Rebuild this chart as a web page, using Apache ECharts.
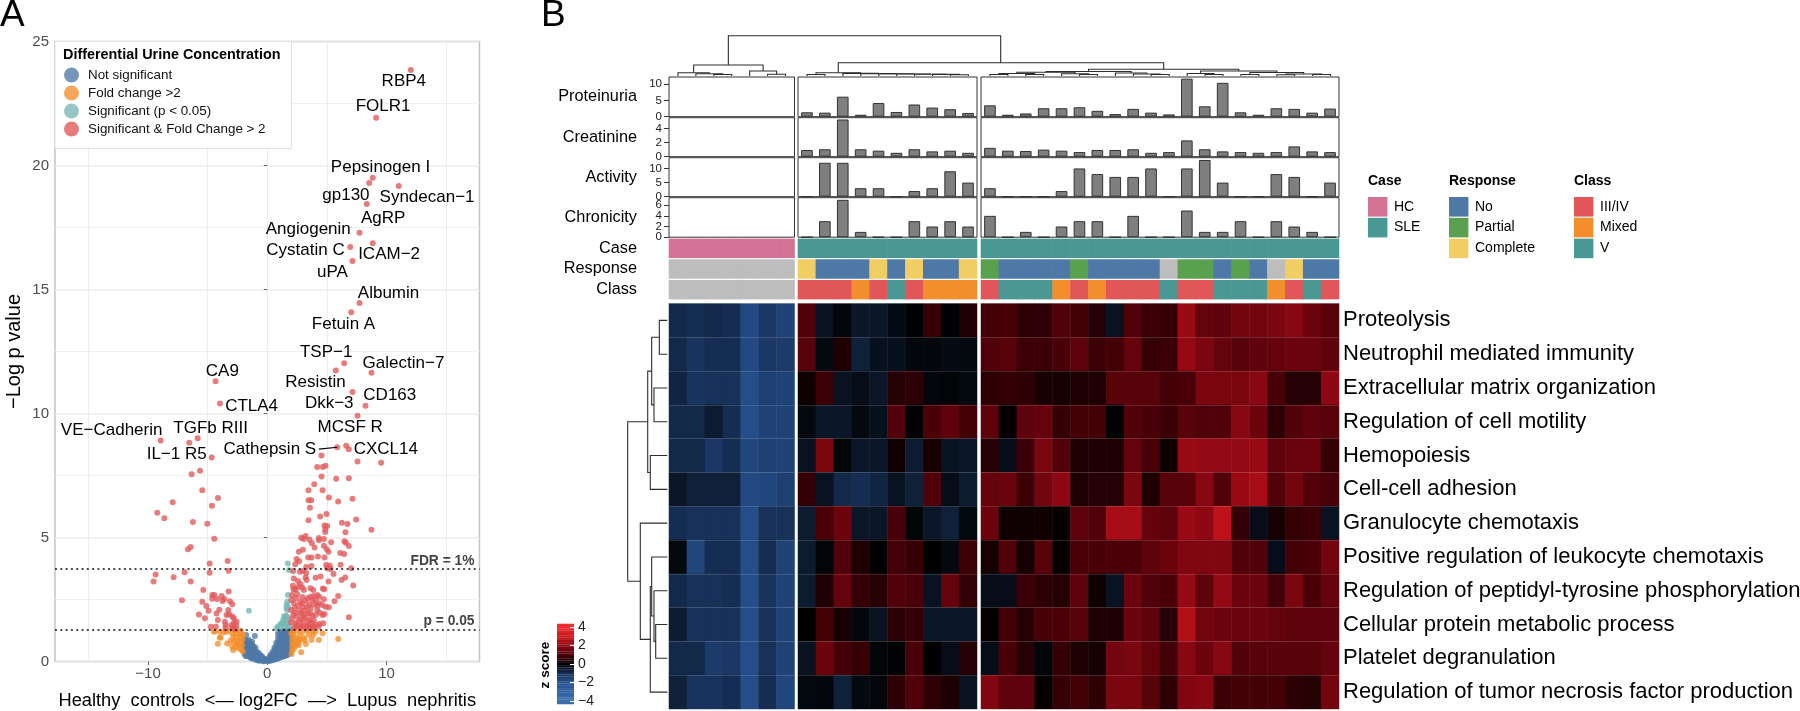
<!DOCTYPE html>
<html><head><meta charset="utf-8">
<style>html,body{margin:0;padding:0;background:#fff}#c{width:1800px;height:711px}</style>
<script src="https://cdn.jsdelivr.net/npm/echarts@6/dist/echarts.min.js"></script>
</head><body><div id="c"></div>
<script>
// ---------- Panel A data ----------
const geneLabels = ['RBP4','FOLR1','Pepsinogen I','gp130','Syndecan\u22121','AgRP','Angiogenin','ICAM\u22122','Cystatin C','uPA','Albumin','Fetuin A','TSP\u22121','Galectin\u22127','Resistin','Dkk\u22123','CD163','CA9','CTLA4','VE\u2212Cadherin','TGFb RIII','IL\u22121 R5','MCSF R','Cathepsin S','CXCL14'];
const genePoints = [[12.04,23.85],[9.13,21.93],[8.85,19.51],[8.55,19.29],[11.03,19.17],[8.35,18.45],[7.74,17.29],[8.85,16.86],[6.96,16.71],[7.15,16.15],[7.74,14.46],[7.04,14.08],[6.45,12.03],[8.74,11.64],[7.15,10.87],[7.57,9.91],[8.24,10.31],[-4.33,11.3],[-3.97,10.4],[-8.94,8.91],[-5.84,9.0],[-4.66,8.23],[6.62,8.7],[5.87,8.64],[6.84,8.56]];
const labelOffsets = [[-7,11],[7,-11.7],[7.7,-10.3],[-23.3,12],[28.3,11.3],[16.3,14.7],[-51.3,-3],[16.3,11],[-44.7,3.7],[-20,11],[29,-10],[-7.7,11.7],[-18,-10.7],[32,-10],[-37,-10],[-28.3,-12.3],[24.3,-10],[6.7,-10.3],[31.7,3],[-49,-10],[13,-10],[-35,-2.7],[4,-18.7],[-67.4,2.4],[37,0.4]];
const cathepsinLeader = [[4.33,8.56],[5.87,8.64]];
const resistinExtra = [[5.75,11.73]];
const sigFoldLeft = [[-6.54,8.82],[-5.64,7.69],[-6.34,7.55],[-5.45,6.91],[-4.13,6.59],[-4.64,6.28],[-7.93,6.42],[-9.22,6.0],[-8.63,5.78],[-6.23,5.62],[-5.03,5.55],[-4.44,4.95],[-6.42,4.62],[-6.65,4.53],[-3.32,4.05],[-4.83,3.95],[-3.24,3.66],[-4.83,3.58],[-6.93,3.6],[-9.36,3.51],[-7.85,3.4],[-9.53,3.23],[-6.42,3.23],[-5.36,2.88],[-3.24,2.82],[-7.15,2.47],[-4.61,2.68],[-4.44,2.68],[-4.61,2.53],[-4.22,2.52],[-3.83,2.64],[-3.6,2.52],[-3.75,2.44],[-3.13,2.43],[-2.93,2.31],[-5.45,2.41],[-5.11,2.24],[-4.92,2.05],[-4.02,2.09],[-4.25,1.94],[-5.73,1.9],[-5.23,1.74],[-4.14,1.67],[-3.27,2.08],[-3.19,1.91],[-3.41,1.87],[-2.93,1.81],[-2.8,1.74],[-2.57,1.6],[-3.55,1.6],[-3.5,1.47],[-3.02,1.46],[-2.8,1.54],[-2.6,1.43],[-4.73,1.4],[-4.31,1.41],[-3.5,1.34],[-2.93,1.34],[-2.66,1.31]];
const sigFoldRight = [[4.55,8.31],[7.57,8.06],[9.55,8.01],[4.19,7.84],[4.66,7.84],[4.89,7.89],[4.55,7.46],[5.78,7.37],[6.84,7.39],[3.94,7.15],[3.46,6.91],[4.64,6.91],[5.17,6.61],[7.15,6.56],[5.95,6.45],[3.46,6.5],[3.69,6.5],[3.58,6.2],[4.44,5.85],[4.97,5.95],[3.46,5.7],[7.46,5.73],[6.26,5.59],[6.73,5.54],[8.74,5.31],[6.56,5.21],[4.8,5.48],[5.03,5.46],[4.86,5.34],[4.86,5.22],
[2.85,4.99],[3.21,5.06],[3.07,4.94],[3.55,4.91],[4.33,4.98],[4.33,4.89],[4.75,4.94],[5.36,4.81],[6.48,4.85],[6.59,4.79],[6.84,4.66],[3.74,4.77],[3.97,4.6],[4.75,4.67],[4.97,4.54],[2.99,4.51],[2.65,4.43],[5.14,4.43],[6.12,4.38],[6.45,4.33],[3.44,4.19],[3.71,4.19],[4.25,4.23],[4.8,4.19],[2.46,4.13],[2.68,4.04],[3.71,3.85],[6.15,3.9],[4.94,3.89],[5.25,3.86],[3.27,3.81],[2.35,3.92],[5.03,3.76],[7.04,3.76],[5.31,3.73],[2.74,3.62],[2.99,3.65],[3.27,3.57],[5.56,3.53],[2.18,3.65],
[2.23,3.35],[2.57,3.25],[2.79,3.13],[3.21,3.39],[3.3,3.29],[4.05,3.38],[4.47,3.43],[5.14,3.23],[6.23,3.29],[6.54,3.39],[7.21,3.06],[2.15,3.05],[2.37,2.91],[2.93,2.98],[3.07,2.88],[3.63,2.95],[3.85,2.88],[4.66,2.94],[4.78,2.91],[5.95,2.64],[5.64,2.43],[2.09,2.68],[2.51,2.72],[2.93,2.6],[3.38,2.55],[3.63,2.61],[3.91,2.64],[4.19,2.68],[4.36,2.61],[4.75,2.51],[3.77,2.48],[4.05,2.48],[4.33,2.35],[2.02,2.48],[2.23,2.35],[2.57,2.24],[2.93,2.35],[3.35,2.19],[3.63,2.14],[4.61,2.28],[4.89,2.21],[5.17,2.19],[4.19,2.08],[4.41,1.97],[4.8,1.92],[6.84,1.78],[2.01,2.08],[2.37,1.97],[2.74,2.05],[3.02,1.88],[3.41,1.94],[3.77,1.84],[4.05,1.88],[4.64,1.88],[2.09,1.74],[2.51,1.81],[2.79,1.7],[3.21,1.78],[3.58,1.67],[3.91,1.65],[4.36,1.51],[4.69,1.54],[2.01,1.57],[2.37,1.54],[2.65,1.43],[3.02,1.51],[3.35,1.43],[3.77,1.41],[4.05,1.47],[2.23,1.34],[2.79,1.34],[3.3,1.33],[3.63,1.34],[3.91,1.38],
[2.2,2.9],[2.6,3.0],[3.0,2.2],[3.2,2.45],[2.4,2.55],[2.75,2.4],[3.5,2.3],[3.9,2.3],[4.2,2.25],[2.3,2.15],[2.85,1.95],[3.15,2.05],[3.6,1.95],[2.2,1.9],[2.6,1.6],[3.0,1.7],[3.4,1.6],[3.7,1.55],[2.4,1.42],[2.95,1.42],[3.5,1.42],[4.3,1.4]];
const significantOnly = [[-1.54,2.05],[1.73,3.95],[1.82,3.68],[1.73,2.68],[1.68,2.41],[1.62,2.28],[1.73,2.21],[1.62,2.14],[1.68,2.08],[1.54,1.84],[1.4,1.81],[1.68,1.81],[1.34,1.67],[1.68,1.67],[1.12,1.51],[1.45,1.54],[1.73,1.54],[0.89,1.41],[1.17,1.41],[1.54,1.41],[1.82,1.41],[0.78,1.33],[1.25,1.55],[1.55,1.68]];
const foldOnly = [[-4.39,1.23],[-3.97,1.2],[-3.64,1.18],[-3.44,1.2],[-3.92,0.96],[-4.14,0.72],[-3.36,0.73],[-2.94,1.14],[-2.66,1.16],[-2.38,1.14],[-2.1,1.11],[-2.02,1.07],[-2.86,0.97],[-2.58,0.97],[-2.24,0.97],[-2.08,0.89],[-3.08,0.84],[-2.8,0.8],[-2.52,0.84],[-2.24,0.8],[-2.61,0.71],[-2.38,0.67],[-2.1,0.67],[-2.94,0.6],[-2.66,0.56],[-2.38,0.53],[-2.86,0.46],[-2.16,0.46],[-2.05,0.4],[-3.22,1.24],[-2.8,1.27],[-2.24,1.24],[-4.47,1.2],[-3.97,0.97],
[2.15,1.2],[2.51,1.24],[2.93,1.2],[3.35,1.24],[3.77,1.24],[4.05,1.2],[4.64,1.14],[5.95,0.91],[4.33,0.87],[3.71,0.87],[3.24,0.71],[2.85,0.37],[2.09,0.96],[2.37,0.96],[2.74,1.07],[3.07,0.96],[3.49,1.07],[3.85,1.07],[2.09,0.8],[2.46,0.8],[2.79,0.87],[3.13,0.87],[2.09,0.6],[2.37,0.63],[2.65,0.67],[2.09,0.44],[2.57,0.76],[2.23,0.5],[2.01,1.14],[2.2,1.1],[2.6,0.9],[2.2,0.72],[2.04,0.3]];
const notSignificant = [[-1.77,1.07],[-1.04,1.03],[-1.9,0.85],[-1.9,0.7],[-1.9,0.55],[-1.9,0.4],[-1.9,0.3],[-1.82,0.87],[-1.82,0.73],[-1.82,0.6],[-1.82,0.46],[-1.82,0.33],[-1.82,0.22],[-1.68,0.82],[-1.68,0.7],[-1.68,0.58],[-1.68,0.46],[-1.68,0.34],[-1.68,0.22],[-1.54,0.87],[-1.54,0.73],[-1.54,0.6],[-1.54,0.46],[-1.54,0.33],[-1.54,0.2],[-1.4,0.75],[-1.4,0.62],[-1.4,0.5],[-1.4,0.38],[-1.4,0.26],[-1.4,0.15],[-1.27,0.8],[-1.27,0.65],[-1.27,0.5],[-1.27,0.38],[-1.27,0.25],[-1.27,0.12],[-1.13,0.6],[-1.13,0.48],[-1.13,0.36],[-1.13,0.24],[-1.13,0.12],[-0.99,0.55],[-0.99,0.42],[-0.99,0.3],[-0.99,0.18],[-0.99,0.08],[-0.85,0.38],[-0.85,0.27],[-0.85,0.16],[-0.85,0.06],[-0.71,0.33],[-0.71,0.2],[-0.71,0.1],[-0.71,0.03],[-0.57,0.25],[-0.57,0.15],[-0.57,0.05],[-0.43,0.2],[-0.43,0.1],[-0.43,0.03],[-0.29,0.12],[-0.29,0.05],[-0.29,0.01],[-0.15,0.08],[-0.15,0.02],
[0.1,0.03],[0.1,0.1],[0.2,0.02],[0.2,0.1],[0.2,0.2],[0.3,0.05],[0.3,0.15],[0.3,0.28],[0.45,0.05],[0.45,0.15],[0.45,0.25],[0.45,0.38],[0.6,0.08],[0.6,0.2],[0.6,0.32],[0.6,0.45],[0.6,0.55],[0.75,0.1],[0.75,0.2],[0.75,0.32],[0.75,0.45],[0.75,0.6],[0.75,0.75],[0.9,0.12],[0.9,0.25],[0.9,0.38],[0.9,0.5],[0.9,0.65],[0.9,0.8],[0.9,0.95],[0.9,1.12],[1.05,0.15],[1.05,0.28],[1.05,0.42],[1.05,0.55],[1.05,0.7],[1.05,0.85],[1.05,1.0],[1.05,1.15],[1.2,0.18],[1.2,0.3],[1.2,0.45],[1.2,0.6],[1.2,0.75],[1.2,0.9],[1.2,1.05],[1.2,1.2],[1.35,0.2],[1.35,0.35],[1.35,0.5],[1.35,0.65],[1.35,0.8],[1.35,0.95],[1.35,1.1],[1.35,1.25],[1.5,0.22],[1.5,0.38],[1.5,0.52],[1.5,0.68],[1.5,0.82],[1.5,0.98],[1.5,1.12],[1.5,1.25],[1.65,0.25],[1.65,0.42],[1.65,0.58],[1.65,0.72],[1.65,0.88],[1.65,1.02],[1.65,1.18],[1.65,1.27],[1.8,0.3],[1.8,0.45],[1.8,0.6],[1.8,0.75],[1.8,0.9],[1.8,1.05],[1.8,1.2],[1.8,1.28],[1.95,0.35],[1.95,0.5],[1.95,0.65],[1.95,0.8],[1.95,0.95],[1.95,1.1],[1.95,1.25]];
const volcanoThresholds = [{value:3.72,name:'FDR = 1%'},{value:1.3,name:'p = 0.05'}];
const volcanoLegend = ['Not significant','Fold change >2','Significant (p < 0.05)','Significant & Fold Change > 2'];

// ---------- Panel B data ----------
const pathways = ['Proteolysis','Neutrophil mediated immunity','Extracellular matrix organization','Regulation of cell motility','Hemopoiesis','Cell-cell adhesion','Granulocyte chemotaxis','Positive regulation of leukocyte chemotaxis','Regulation of peptidyl-tyrosine phosphorylation','Cellular protein metabolic process','Platelet degranulation','Regulation of tumor necrosis factor production'];
const hcZ = [
[-0.9,-1.0,-0.9,-1.0,-1.8,-1.3,-1.6],[-0.9,-1.2,-1.0,-1.0,-1.8,-1.3,-1.4],[-0.8,-1.2,-1.1,-1.1,-1.9,-1.5,-1.6],[-0.9,-0.9,-0.6,-1.0,-1.9,-1.6,-1.6],
[-0.9,-0.9,-1.3,-1.0,-1.7,-1.5,-1.6],[-0.5,-0.7,-0.7,-0.7,-1.8,-1.7,-1.5],[-1.0,-1.1,-1.1,-1.1,-1.9,-1.1,-1.1],[-0.2,-1.7,-1.0,-1.0,-1.9,-1.0,-1.6],
[-0.9,-1.1,-1.1,-1.0,-1.9,-1.2,-1.6],[-0.6,-1.1,-1.1,-1.1,-1.9,-1.1,-1.6],[-0.9,-0.9,-1.4,-1.3,-1.9,-1.1,-1.6],[-0.7,-1.2,-1.2,-1.0,-1.9,-1.0,-1.7]];
const midZ = [
[1.1,-0.4,-0.15,-0.5,-0.5,-0.25,-0.05,0.7,-0.05,0.4],[1.2,-0.2,0.4,-0.7,-0.35,-0.35,-0.15,-0.15,-0.25,-0.2],[0.2,0.8,-0.4,-0.3,-0.5,0.5,0.6,-0.15,-0.1,-0.2],[-0.2,-0.5,-0.5,-0.2,-0.35,1.1,-0.05,1.0,1.3,0.9],
[-0.4,1.7,-0.1,-0.5,-0.5,0.2,-0.6,0.3,-0.4,-0.5],[0.7,-0.4,-0.9,-1.0,-0.8,-0.4,-0.7,1.1,-0.3,-0.6],[-0.6,1.0,1.5,-0.5,-0.5,1.0,-0.1,-0.5,-0.7,-0.2],[-0.6,-0.1,1.1,0.4,0.0,0.9,0.7,0.0,-0.2,0.8],
[-0.6,0.4,1.4,0.7,0.5,1.1,1.0,-0.4,1.4,0.7],[0.0,0.9,0.3,-0.15,-0.4,0.6,0.7,-0.5,-0.5,-0.5],[-0.4,1.5,0.9,0.7,-0.1,-0.05,1.0,0.0,-0.3,0.5],[-0.2,-0.15,-0.7,-0.2,-0.15,0.6,1.1,0.6,0.4,-0.4]];
const rightZ = [
[0.9,1.0,0.6,0.6,1.1,0.9,0.5,-0.4,1.1,0.8,0.7,2.2,1.4,1.3,1.6,1.6,1.7,1.9,1.5,1.2],
[1.1,1.2,0.8,0.8,1.0,1.3,0.8,0.9,1.4,0.7,0.8,2.1,1.7,1.4,1.2,1.3,1.4,1.5,1.5,1.3],
[0.6,0.7,0.6,0.3,0.3,0.4,0.4,1.2,1.2,1.2,0.9,1.0,1.7,1.7,1.7,1.9,1.0,0.5,0.5,2.0],
[1.3,0.1,1.3,1.4,0.7,0.9,0.9,-0.05,1.1,1.0,0.8,1.2,1.1,1.1,1.9,1.5,0.6,1.1,1.3,1.2],
[0.5,-0.3,0.8,1.7,1.1,0.4,0.4,0.4,1.4,1.0,0.2,2.2,2.1,2.1,2.1,2.2,1.3,1.5,1.5,0.7],
[1.4,1.5,0.8,1.6,2.0,0.4,0.5,0.5,1.7,0.4,1.2,1.2,1.9,1.1,2.2,2.4,1.1,1.6,1.1,1.0],
[1.5,0.2,0.2,0.2,0.1,1.3,1.1,2.4,2.4,1.4,1.3,2.2,2.0,2.8,0.7,-0.3,0.3,0.7,0.8,-0.4],
[0.3,1.1,0.3,1.2,0.1,1.0,1.0,1.0,1.0,1.3,1.5,1.8,1.8,1.8,1.1,1.1,-0.3,0.9,1.0,1.6],
[-0.3,-0.3,0.8,0.6,0.5,1.3,0.2,-0.4,1.5,1.1,1.0,2.1,1.3,2.1,1.5,1.5,0.9,1.7,1.0,1.4],
[0.1,0.9,0.5,1.0,1.0,1.2,0.4,0.4,1.5,1.3,0.5,2.6,1.6,1.5,1.5,1.5,1.4,1.3,1.3,1.3],
[-0.3,1.0,0.5,-0.1,0.7,0.4,0.3,1.6,1.7,1.4,0.9,1.9,1.5,1.9,1.1,1.2,1.2,1.2,1.2,1.4],
[1.8,1.3,1.3,0.1,0.7,0.9,0.6,1.7,1.7,1.2,0.6,1.8,1.9,0.8,0.9,0.9,0.9,0.6,0.5,1.6]];
const zLevels = [-4.25,-4,-3.75,-3.5,-3.25,-3,-2.75,-2.5,-2.25,-2,-1.75,-1.5,-1.25,-1,-0.75,-0.5,-0.25,0,0.25,0.5,0.75,1,1.25,1.5,1.75,2,2.25,2.5,2.75,3,3.25,3.5,3.75,4,4.25];
const zTicks = [-4,-2,0,2,4];

const barPanels = ['Proteinuria','Creatinine','Activity','Chronicity'];
const proteinuriaMid = [1.35,1.25,6.15,0.6,4.2,1.45,3.75,2.8,2.3,1.15];
const proteinuriaRight = [3.5,0.6,1.0,2.6,2.6,2.9,1.8,0.8,2.4,1.25,0.7,11.7,3.2,10.4,1.35,0.6,2.6,2.4,1.25,2.5];
const creatinineMid = [0.95,1.05,5.25,1.05,0.85,0.55,1.05,0.75,0.85,0.55];
const creatinineRight = [1.25,0.85,0.8,1.0,0.85,0.65,0.95,0.95,1.05,0.55,0.65,2.3,1.05,0.75,0.65,0.55,0.65,1.45,0.75,0.65];
const activityMid = [0,12,12,3,3,0,2,3,9,5];
const activityRight = [3,0,0,0,2,10,8,7,7,10,0,10,13,5,0,0,8,7,0,5];
const chronicityMid = [0,3,7,1,0,0,3,2,3,2];
const chronicityRight = [4,0,1,0,2,3,3,0,4,0,0,5,1,1,3,0,3,2,1,0];

const annotationRows = ['Case','Response','Class'];
const caseLevels = ['HC','SLE'];
const responseLevels = ['No','Partial','Complete'];
const classLevels = ['III/IV','Mixed','V'];
const caseHC = Array.from('HHHHHHH');
const caseMid = Array.from('SSSSSSSSSS');
const caseRight = Array.from('SSSSSSSSSSSSSSSSSSSS');
// response: N no, P partial, C complete, x not available
const responseHC = Array.from('xxxxxxx');
const responseMid = Array.from('CNNNCNCNNC');
const responseRight = Array.from('PNNNNPNNNNxPPNPNxCNN');
// class: T III/IV, M mixed, V class V, x not available
const classHC = Array.from('xxxxxxx');
const classMid = Array.from('TTTMTVTMMM');
const classRight = Array.from('TVVVMTMTTTVTTVVVMTVT');

// dendrogram merges: [position A, height A, position B, height B, merge height]
const columnMerges = [
[2.5,0,3.5,0,1.5],[1.5,0,3,1.5,2.2],[0.5,0,2.25,2.2,3.3],[5.5,0,6.5,0,1.8],[4.5,0,6,1.8,5],[1.375,3.3,5.25,5,11],
[15.7,0,16.7,0,1.3],[14.7,0,16.2,1.3,1.6],[13.7,0,15.45,1.6,1.8],[12.7,0,14.575,1.8,2],[11.7,0,13.64,2,2.2],[10.7,0,12.67,2.2,2.4],[9.7,0,11.68,2.4,2.6],[7.7,0,8.7,0,1.5],[8.2,1.5,10.69,2.6,3.3],
[17.9,0,18.9,0,1.5],[19.9,0,20.9,0,1.5],[18.4,1.5,20.4,1.5,2.5],[22.9,0,23.9,0,1.5],[21.9,0,23.4,1.5,2.2],[19.4,2.5,22.65,2.2,3.7],[26.9,0,27.9,0,1.5],[25.9,0,27.4,1.5,2],[24.9,0,26.65,2,3],[21.03,3.7,25.78,3,4.5],
[29.9,0,30.9,0,1.5],[28.9,0,30.4,1.5,2.5],[31.9,0,32.9,0,1.5],[33.9,0,34.9,0,1.3],[35.9,0,36.9,0,1.5],[34.4,1.3,36.4,1.5,2],[32.4,1.5,35.4,2,3.5],[29.65,2.5,33.9,3.5,5],[23.4,4.5,31.78,5,6.7],[9.44,3.3,27.59,6.7,13.3],[3.31,11,18.5,13.3,40.3]];
const rowMerges = [
[0.5,0,1.5,0,8],[2.5,0,3.5,0,13.3],[1,8,3,13.3,15.6],[4.5,0,5.5,0,17],[2,15.6,5,17,19.6],
[9.5,0,10.5,0,11.6],[8.5,0,10,11.6,13.3],[7.5,0,9.25,13.3,15.6],[8.375,15.6,11.5,0,17],[6.5,0,9.94,17,27],[3.5,19.6,8.22,27,39.6]];

// ---------- Styles ----------
const FONT = '"Liberation Sans", Arial, sans-serif';
const C = {blue:'#4e79a7',orange:'#f28e2b',teal:'#76b7b2',red:'#e15759'};
const annotationColors = {H:'#d37295',S:'#499894',N:'#4e79a7',P:'#59a14f',C:'#f1ce63',T:'#e15759',M:'#f28e2b',V:'#499894',x:'#bdbdbd'};
const zColors = ['#3a6ea8','#2e60a0','#265090','#152d52','#000000','#4a0008','#8e0813','#c9141c','#ee2b2e'];
const minus = s => String(s).replace('-','\u2212');

const grids=[], xAxes=[], yAxes=[], extraY=[], series=[], heatIdx=[];
function addGrid(g,x,y){g.outerBoundsMode='none';grids.push(g);x.gridIndex=grids.length-1;y.gridIndex=grids.length-1;xAxes.push(x);yAxes.push(y);return grids.length-1;}

// ---------- Volcano ----------
const vg = addGrid({left:55,top:41.5,width:424.5,height:620,show:true,borderColor:'#c4c4c4',borderWidth:1.5,backgroundColor:'#fff'},
 {type:'value',min:-17.8,max:17.8,minInterval:10,maxInterval:10,splitNumber:4,
  axisLine:{show:false},axisTick:{show:true,length:3.5,lineStyle:{color:'#666'},customValues:[-10,0,10]},
  axisLabel:{customValues:[-10,0,10],formatter:minus,color:'#4d4d4d',fontSize:15,margin:5,hideOverlap:false},
  splitLine:{show:true,showMinLine:false,showMaxLine:false,lineStyle:{color:'#ececec',width:1}},
  minorTick:{show:false,splitNumber:2},minorSplitLine:{show:true,lineStyle:{color:'#ececec',width:1}},
  name:'Healthy  controls  <\u2014 log2FC  \u2014>  Lupus  nephritis',nameLocation:'middle',nameGap:30,nameTextStyle:{fontSize:18.3,color:'#000'}},
 {type:'value',min:0,max:25,interval:5,
  axisLine:{show:false},axisTick:{show:true,length:3.5,lineStyle:{color:'#666'}},
  axisLabel:{color:'#4d4d4d',fontSize:15,margin:6},
  splitLine:{show:true,lineStyle:{color:'#ededed',width:1.5}},
  minorTick:{show:false,splitNumber:2},minorSplitLine:{show:true,lineStyle:{color:'#f0f0f0',width:1}},
  name:'\u2212Log p value',nameLocation:'middle',nameGap:31,nameTextStyle:{fontSize:20,color:'#000'}});
function scatter(name,color,data,extra){series.push(Object.assign({type:'scatter',name,xAxisIndex:vg,yAxisIndex:vg,data,symbolSize:6,
 itemStyle:{color,opacity:0.78},emphasis:{disabled:true}},extra||{}));}
scatter(volcanoLegend[0],C.blue,notSignificant,{markLine:{silent:true,symbol:'none',animation:false,
  lineStyle:{color:'#111',type:[2,3.3],width:1.6,dashOffset:0},
  data:volcanoThresholds.map(t=>({yAxis:t.value,name:t.name,label:{show:true,formatter:t.name,position:'insideEndTop',color:'#444',fontSize:13.8,fontWeight:'bold',
     distance:[5,1]}}))}});
scatter(volcanoLegend[1],C.orange,foldOnly);
scatter(volcanoLegend[2],C.teal,significantOnly);
scatter(volcanoLegend[3],C.red,sigFoldLeft.concat(sigFoldRight).concat(resistinExtra).concat(genePoints.map((p,i)=>({value:p,name:geneLabels[i],
  label:{show:true,position:'inside',formatter:geneLabels[i],offset:labelOffsets[i],color:'#000',opacity:1,fontSize:17}}))),{z:3});
series.push({type:'line',xAxisIndex:vg,yAxisIndex:vg,data:cathepsinLeader,symbol:'none',silent:true,lineStyle:{color:'#000',width:1.2},z:4});

// ---------- Column geometry ----------
const blocks = [{left:669,width:125.5,n:7},{left:798,width:179,n:10},{left:981,width:358,n:20}];
const barPanelGeom = [{top:77,h:39.7,max:12.2,ticks:[0,5,10]},{top:117.7,h:39,max:5.5,ticks:[0,2,4]},{top:157.7,h:39,max:13.8,ticks:[0,5,10]},{top:197.7,h:39.5,max:7.4,ticks:[0,2,4,6]}];
const barData = [[null,proteinuriaMid,proteinuriaRight],[null,creatinineMid,creatinineRight],[null,activityMid,activityRight],[null,chronicityMid,chronicityRight]];
const cats = n => Array.from({length:n},(_,i)=>i);
const tickAxis = (g,ticks,extra) => Object.assign({type:'value',min:0,max:g.max,position:'left',splitLine:{show:false},axisLine:{show:false},
    axisTick:{show:true,length:5,lineStyle:{color:'#333'},customValues:ticks},
    axisLabel:{customValues:ticks,color:'#222',fontSize:11.5,margin:7,hideOverlap:false}},extra||{});

barPanels.forEach((name,p)=>{
 const g=barPanelGeom[p];
 blocks.forEach((b,k)=>{
  // Alternate ticks go on two axes of the same panel so that close neighbours all keep their labels.
  const even=g.ticks.filter((_,i)=>i%2===0), odd=g.ticks.filter((_,i)=>i%2===1);
  const idx=addGrid({left:b.left,top:g.top,width:b.width,height:g.h,show:true,borderColor:'#333',borderWidth:1,backgroundColor:'#fff'},
   {type:'category',data:cats(b.n),show:false},
   tickAxis(g,even,{show:k===0,name:k===0?name:'',nameLocation:'middle',nameRotate:0,nameGap:32,nameTextStyle:{fontSize:16.3,color:'#000'}}));
  if(k===0) extraY.push(tickAxis(g,odd,{gridIndex:idx}));
  if(barData[p][k]) series.push({type:'bar',xAxisIndex:idx,yAxisIndex:idx,data:barData[p][k],barWidth:'65%',
     itemStyle:{color:'#7f7f7f',borderColor:'#333',borderWidth:1},silent:true});
 });
});

// ---------- Annotation tracks ----------
const annotationData=[[caseHC,responseHC,classHC],[caseMid,responseMid,classMid],[caseRight,responseRight,classRight]];
blocks.forEach((b,k)=>{
 const idx=addGrid({left:b.left,top:238,width:b.width,height:62},
  {type:'category',data:cats(b.n),show:false},
  {type:'category',inverse:true,data:annotationRows,show:k===0,axisLine:{show:false},axisTick:{show:false},axisLabel:{interval:0,fontSize:16.3,color:'#000',margin:32}});
 const d=[];annotationData[k].forEach((row,r)=>row.forEach((v,c)=>d.push([c,r,v])));
 series.push({type:'custom',xAxisIndex:idx,yAxisIndex:idx,silent:true,data:d,encode:{x:0,y:1},
  renderItem:(params,api)=>{const p=api.coord([api.value(0),api.value(1)]);const s=api.size([1,1]);
   return {type:'rect',shape:{x:p[0]-s[0]/2-0.3,y:p[1]-s[1]/2+0.6,width:s[0]+0.6,height:s[1]-1.2},style:{fill:annotationColors[d[params.dataIndex][2]]}};}});
});

// ---------- Heatmap ----------
const heatData=[hcZ,midZ,rightZ];
blocks.forEach((b,k)=>{
 const idx=addGrid({left:b.left,top:303.5,width:b.width,height:405.5},
  {type:'category',data:cats(b.n),show:false,splitArea:{show:false}},
  {type:'category',inverse:true,data:pathways,z:5,position:k===2?'right':'left',axisLine:{show:false},axisTick:{show:false},
   axisLabel:{show:k===2,interval:0,fontSize:22,color:'#000',margin:4},
   splitLine:{show:true,lineStyle:{color:'rgba(255,255,255,0.14)',width:1}},splitArea:{show:false}});
 const d=[];heatData[k].forEach((row,r)=>row.forEach((v,c)=>d.push([c,r,v])));
 heatIdx.push(series.length);
 series.push({type:'heatmap',xAxisIndex:idx,yAxisIndex:idx,data:d,silent:true,progressive:0,animation:false,itemStyle:{borderWidth:0}});
});

// ---------- Colour bar ----------
const cbIdx=addGrid({left:557,top:624,width:17,height:80},
 {type:'category',data:[0],show:false},
 {type:'value',min:-4.35,max:4.35,position:'right',z:5,minInterval:2,maxInterval:2,splitLine:{show:false},axisLine:{show:false},
  axisTick:{show:true,inside:true,length:4,customValues:zTicks,lineStyle:{color:'#fff',width:1}},
  axisLabel:{customValues:zTicks,formatter:minus,fontSize:14,color:'#222',margin:4,hideOverlap:false}});
heatIdx.push(series.length);
series.push({type:'custom',xAxisIndex:cbIdx,yAxisIndex:cbIdx,silent:true,data:zLevels.map(v=>[0,v]),encode:{x:0,y:1},
 renderItem:(params,api)=>{const v=api.value(1);const a=api.coord([0,v+0.13]);const c=api.coord([0,v-0.13]);const w=api.size([1,0])[0];
  return {type:'rect',shape:{x:a[0]-w/2,y:a[1],width:w,height:c[1]-a[1]},style:{fill:api.visual('color')}};}});

// ---------- Dendrograms ----------
function dendroRender(toPoint){return (params,api)=>{
 const a=api.value(0),ha=api.value(1),b=api.value(2),hb=api.value(3),h=api.value(4);
 return {type:'polyline',shape:{points:[api.coord(toPoint(a,ha)),api.coord(toPoint(a,h)),api.coord(toPoint(b,h)),api.coord(toPoint(b,hb))]},style:{fill:'none',stroke:'#2e2e2e',lineWidth:1.1}};};}
const tdIdx=addGrid({left:669,top:35,width:670,height:41},{type:'value',min:0,max:37.37,show:false},{type:'value',min:0,max:41,show:false});
series.push({type:'custom',xAxisIndex:tdIdx,yAxisIndex:tdIdx,silent:true,data:columnMerges,renderItem:dendroRender((p,h)=>[p,h]),encode:{x:[0,2],y:[1,3,4]}});
const ldIdx=addGrid({left:625,top:303.5,width:42.3,height:405.5},{type:'value',min:0,max:42.3,inverse:true,show:false},{type:'value',min:0,max:12,inverse:true,show:false});
series.push({type:'custom',xAxisIndex:ldIdx,yAxisIndex:ldIdx,silent:true,data:rowMerges,renderItem:dendroRender((p,h)=>[h,p]),encode:{y:[0,2],x:[1,3,4]}});

// ---------- Discrete legends and free text ----------
const graphics=[
 {type:'text',left:0,top:-3,style:{text:'A',font:'37px '+FONT,fill:'#000'}},
 {type:'text',left:541,top:-3,style:{text:'B',font:'37px '+FONT,fill:'#000'}},
 {type:'text',left:63,top:48,z:20,style:{text:'Differential Urine Concentration',font:'bold 14.4px '+FONT,fill:'#000'}},
 {type:'text',x:545,y:665,rotation:Math.PI/2,z:10,style:{text:'z score',font:'bold 13.6px '+FONT,fill:'#000',textAlign:'center',textVerticalAlign:'middle'}}
];
[{title:'Case',levels:caseLevels,keys:['H','S'],x:1368},{title:'Response',levels:responseLevels,keys:['N','P','C'],x:1449},{title:'Class',levels:classLevels,keys:['T','M','V'],x:1574}].forEach(L=>{
 graphics.push({type:'text',x:L.x,y:181,style:{text:L.title,font:'bold 14px '+FONT,fill:'#000',textVerticalAlign:'middle'}});
 L.levels.forEach((t,i)=>{
  graphics.push({type:'rect',x:L.x,y:197+i*20.8,shape:{width:19.4,height:19.6},style:{fill:annotationColors[L.keys[i]]}});
  graphics.push({type:'text',x:L.x+26,y:206.8+i*20.8,style:{text:t,font:'14px '+FONT,fill:'#000',textVerticalAlign:'middle'}});
 });
});

const chart=echarts.init(document.getElementById('c'),null,{renderer:'canvas'});
chart.setOption({
 animation:false,backgroundColor:'#fff',
 textStyle:{fontFamily:FONT},
 grid:grids,xAxis:xAxes,yAxis:yAxes.concat(extraY),series,
 visualMap:{type:'continuous',show:false,min:-4,max:4,seriesIndex:heatIdx,inRange:{color:zColors}},
 legend:{show:true,orient:'vertical',left:55,top:41.5,data:volcanoLegend,icon:'circle',itemWidth:15,itemHeight:15,itemGap:3,selectedMode:false,
  padding:[26,26,12,9],backgroundColor:'#fff',borderColor:'#e2e2e2',borderWidth:1,textStyle:{fontSize:13.4,color:'#111',padding:[0,0,0,4]}},
 graphic:graphics
});
</script></body></html>
